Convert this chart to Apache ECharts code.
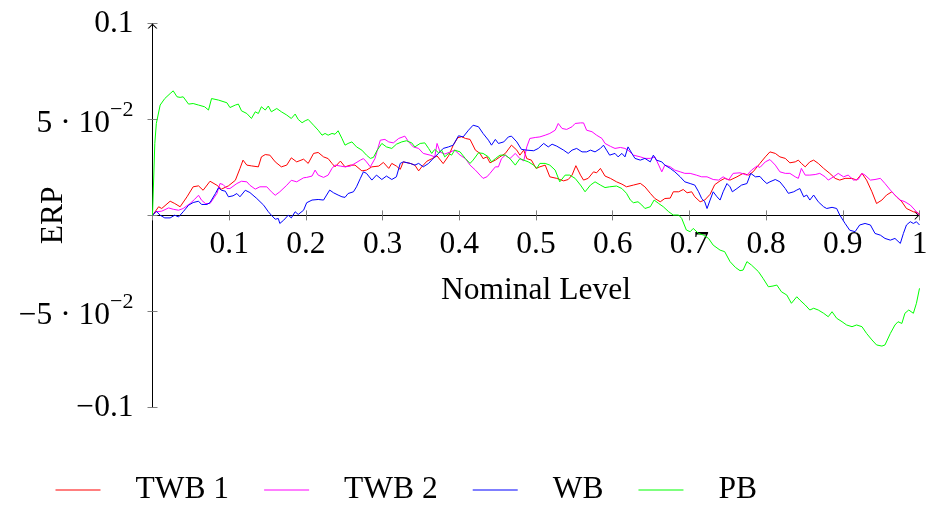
<!DOCTYPE html>
<html>
<head>
<meta charset="utf-8">
<script src="https://cdn.jsdelivr.net/npm/echarts@6/dist/echarts.min.js"></script>
<style>
html,body{margin:0;padding:0;background:#fff;}
#chart{width:930px;height:505px;}
</style>
</head>
<body>
<div id="chart"></div>
<script>
// ---------- data ----------
const seriesNames = ['TWB 1', 'TWB 2', 'WB', 'PB'];

const twb1 = [[0,0],[0.008,0.0045],[0.012,0.0036],[0.023,0.0074],[0.029,0.0062],[0.036,0.0045],[0.045,0.0097],[0.053,0.0149],[0.060,0.0154],[0.066,0.0131],[0.075,0.0178],[0.084,0.0157],[0.090,0.0137],[0.099,0.0154],[0.108,0.0183],[0.114,0.0244],[0.118,0.0288],[0.123,0.0262],[0.129,0.0258],[0.138,0.0253],[0.142,0.0305],[0.147,0.0317],[0.153,0.0314],[0.160,0.0279],[0.168,0.0253],[0.175,0.0262],[0.181,0.0300],[0.188,0.0279],[0.197,0.0293],[0.203,0.0271],[0.210,0.0323],[0.216,0.0328],[0.223,0.0305],[0.229,0.0296],[0.234,0.0271],[0.238,0.0253],[0.245,0.0283],[0.251,0.0253],[0.258,0.0262],[0.264,0.0262],[0.273,0.0232],[0.279,0.0236],[0.286,0.0253],[0.295,0.0257],[0.301,0.0276],[0.308,0.0245],[0.312,0.0271],[0.318,0.0257],[0.323,0.0240],[0.327,0.0279],[0.336,0.0271],[0.342,0.0262],[0.347,0.0232],[0.351,0.0253],[0.358,0.0283],[0.364,0.0295],[0.371,0.0310],[0.379,0.0270],[0.386,0.0310],[0.392,0.0365],[0.398,0.0405],[0.403,0.0410],[0.408,0.0401],[0.414,0.0396],[0.421,0.0340],[0.427,0.0323],[0.431,0.0296],[0.436,0.0305],[0.440,0.0274],[0.447,0.0288],[0.453,0.0305],[0.460,0.0323],[0.468,0.0366],[0.475,0.0340],[0.479,0.0314],[0.484,0.0340],[0.488,0.0296],[0.494,0.0288],[0.500,0.0245],[0.505,0.0253],[0.512,0.0262],[0.518,0.0201],[0.527,0.0193],[0.536,0.0180],[0.542,0.0187],[0.547,0.0210],[0.552,0.0259],[0.558,0.0210],[0.562,0.0184],[0.568,0.0193],[0.575,0.0227],[0.579,0.0222],[0.584,0.0245],[0.590,0.0205],[0.597,0.0193],[0.605,0.0175],[0.612,0.0163],[0.618,0.0149],[0.627,0.0158],[0.636,0.0167],[0.642,0.0149],[0.649,0.0115],[0.655,0.0088],[0.662,0.0071],[0.668,0.0088],[0.675,0.0090],[0.679,0.0123],[0.686,0.0123],[0.692,0.0135],[0.697,0.0118],[0.703,0.0123],[0.707,0.0097],[0.714,0.0071],[0.720,0.0080],[0.727,0.0110],[0.733,0.0160],[0.740,0.0180],[0.746,0.0193],[0.753,0.0184],[0.762,0.0201],[0.770,0.0219],[0.777,0.0210],[0.783,0.0227],[0.792,0.0271],[0.799,0.0305],[0.805,0.0331],[0.812,0.0323],[0.818,0.0305],[0.825,0.0297],[0.831,0.0274],[0.838,0.0279],[0.842,0.0288],[0.846,0.0271],[0.851,0.0253],[0.857,0.0279],[0.862,0.0288],[0.868,0.0271],[0.875,0.0245],[0.883,0.0219],[0.890,0.0193],[0.896,0.0184],[0.903,0.0193],[0.912,0.0193],[0.918,0.0184],[0.925,0.0219],[0.931,0.0184],[0.938,0.0123],[0.944,0.0062],[0.951,0.0080],[0.957,0.0106],[0.964,0.0123],[0.970,0.0097],[0.977,0.0071],[0.983,0.0036],[0.992,0.0019],[0.998,0.0014],[1,0.0002]];

const twb2 = [[0,0],[0.005,0.0019],[0.012,0.0022],[0.021,0.0039],[0.027,0.0032],[0.034,0.0027],[0.040,0.0036],[0.049,0.0062],[0.055,0.0084],[0.060,0.0105],[0.064,0.0079],[0.069,0.0062],[0.075,0.0062],[0.084,0.0114],[0.088,0.0166],[0.092,0.0161],[0.097,0.0140],[0.101,0.0140],[0.110,0.0166],[0.116,0.0178],[0.123,0.0175],[0.127,0.0157],[0.134,0.0137],[0.140,0.0149],[0.149,0.0149],[0.155,0.0123],[0.160,0.0105],[0.166,0.0123],[0.175,0.0157],[0.181,0.0183],[0.188,0.0175],[0.197,0.0196],[0.201,0.0198],[0.208,0.0205],[0.212,0.0236],[0.216,0.0210],[0.223,0.0198],[0.229,0.0210],[0.234,0.0245],[0.238,0.0262],[0.245,0.0257],[0.251,0.0253],[0.258,0.0257],[0.264,0.0271],[0.271,0.0288],[0.275,0.0296],[0.279,0.0279],[0.284,0.0253],[0.290,0.0296],[0.297,0.0392],[0.303,0.0396],[0.308,0.0383],[0.314,0.0378],[0.321,0.0401],[0.329,0.0413],[0.334,0.0383],[0.340,0.0357],[0.347,0.0349],[0.353,0.0323],[0.362,0.0314],[0.368,0.0305],[0.371,0.0375],[0.375,0.0330],[0.381,0.0320],[0.388,0.0330],[0.394,0.0340],[0.401,0.0314],[0.408,0.0296],[0.414,0.0262],[0.421,0.0236],[0.427,0.0210],[0.431,0.0193],[0.436,0.0201],[0.440,0.0219],[0.447,0.0253],[0.451,0.0253],[0.455,0.0296],[0.460,0.0314],[0.466,0.0296],[0.473,0.0323],[0.479,0.0296],[0.484,0.0284],[0.488,0.0357],[0.492,0.0401],[0.499,0.0406],[0.505,0.0409],[0.512,0.0418],[0.518,0.0427],[0.525,0.0444],[0.529,0.0479],[0.534,0.0453],[0.540,0.0448],[0.547,0.0462],[0.551,0.0479],[0.558,0.0482],[0.562,0.0482],[0.566,0.0444],[0.573,0.0436],[0.579,0.0418],[0.586,0.0401],[0.590,0.0375],[0.597,0.0360],[0.603,0.0349],[0.610,0.0354],[0.616,0.0349],[0.620,0.0340],[0.627,0.0314],[0.636,0.0305],[0.642,0.0297],[0.649,0.0297],[0.655,0.0305],[0.660,0.0262],[0.664,0.0227],[0.668,0.0262],[0.675,0.0253],[0.681,0.0236],[0.688,0.0227],[0.694,0.0219],[0.701,0.0219],[0.709,0.0210],[0.716,0.0201],[0.723,0.0201],[0.731,0.0187],[0.738,0.0184],[0.744,0.0201],[0.751,0.0184],[0.757,0.0219],[0.766,0.0222],[0.775,0.0210],[0.781,0.0236],[0.788,0.0257],[0.792,0.0250],[0.799,0.0279],[0.805,0.0291],[0.812,0.0262],[0.818,0.0227],[0.825,0.0219],[0.831,0.0219],[0.838,0.0201],[0.842,0.0193],[0.846,0.0245],[0.851,0.0210],[0.857,0.0210],[0.864,0.0213],[0.870,0.0219],[0.877,0.0201],[0.881,0.0184],[0.888,0.0201],[0.894,0.0219],[0.901,0.0201],[0.907,0.0210],[0.914,0.0184],[0.920,0.0187],[0.925,0.0219],[0.929,0.0210],[0.936,0.0184],[0.942,0.0187],[0.949,0.0193],[0.955,0.0166],[0.962,0.0132],[0.968,0.0106],[0.975,0.0080],[0.981,0.0071],[0.988,0.0054],[0.994,0.0028],[1,0.0002]];

const wb = [[0,0],[0.005,0.0022],[0.010,0.0001],[0.016,-0.0013],[0.023,-0.0013],[0.029,0.0001],[0.034,-0.0008],[0.040,0.0019],[0.047,0.0053],[0.053,0.0067],[0.060,0.0074],[0.064,0.0057],[0.071,0.0057],[0.075,0.0067],[0.082,0.0114],[0.086,0.0144],[0.090,0.0131],[0.095,0.0126],[0.099,0.0097],[0.105,0.0102],[0.110,0.0114],[0.114,0.0097],[0.121,0.0131],[0.127,0.0119],[0.136,0.0088],[0.145,0.0053],[0.151,0.0019],[0.155,0.0001],[0.160,-0.0020],[0.164,-0.0016],[0.166,-0.0042],[0.171,-0.0025],[0.177,0.0001],[0.181,-0.0013],[0.186,0.0019],[0.190,0.0005],[0.197,0.0027],[0.201,0.0066],[0.208,0.0080],[0.216,0.0083],[0.223,0.0080],[0.227,0.0106],[0.231,0.0132],[0.236,0.0118],[0.242,0.0106],[0.247,0.0097],[0.251,0.0094],[0.255,0.0114],[0.262,0.0123],[0.266,0.0149],[0.271,0.0193],[0.275,0.0227],[0.279,0.0219],[0.286,0.0184],[0.292,0.0210],[0.299,0.0187],[0.305,0.0205],[0.312,0.0187],[0.318,0.0201],[0.323,0.0271],[0.327,0.0279],[0.336,0.0271],[0.342,0.0262],[0.347,0.0271],[0.353,0.0253],[0.360,0.0271],[0.366,0.0297],[0.373,0.0323],[0.379,0.0349],[0.386,0.0357],[0.392,0.0366],[0.399,0.0415],[0.405,0.0409],[0.412,0.0444],[0.418,0.0470],[0.425,0.0462],[0.431,0.0427],[0.438,0.0392],[0.442,0.0366],[0.447,0.0396],[0.451,0.0375],[0.458,0.0383],[0.464,0.0409],[0.468,0.0413],[0.475,0.0383],[0.481,0.0344],[0.488,0.0340],[0.497,0.0337],[0.503,0.0349],[0.510,0.0375],[0.516,0.0357],[0.521,0.0371],[0.527,0.0361],[0.536,0.0340],[0.542,0.0323],[0.547,0.0340],[0.553,0.0349],[0.560,0.0331],[0.566,0.0331],[0.571,0.0340],[0.577,0.0331],[0.584,0.0349],[0.588,0.0366],[0.592,0.0340],[0.596,0.0314],[0.603,0.0323],[0.607,0.0305],[0.612,0.0323],[0.616,0.0305],[0.620,0.0357],[0.625,0.0323],[0.629,0.0297],[0.636,0.0288],[0.642,0.0297],[0.649,0.0279],[0.653,0.0314],[0.657,0.0288],[0.664,0.0279],[0.668,0.0262],[0.675,0.0245],[0.681,0.0227],[0.688,0.0201],[0.694,0.0175],[0.701,0.0166],[0.707,0.0158],[0.712,0.0123],[0.716,0.0088],[0.720,0.0071],[0.723,0.0036],[0.727,0.0080],[0.731,0.0123],[0.736,0.0097],[0.740,0.0080],[0.744,0.0123],[0.749,0.0166],[0.753,0.0149],[0.756,0.0123],[0.762,0.0140],[0.768,0.0158],[0.775,0.0166],[0.780,0.0219],[0.786,0.0201],[0.792,0.0203],[0.796,0.0184],[0.801,0.0166],[0.805,0.0175],[0.812,0.0187],[0.818,0.0175],[0.825,0.0140],[0.829,0.0115],[0.836,0.0123],[0.840,0.0132],[0.844,0.0140],[0.849,0.0097],[0.853,0.0106],[0.857,0.0080],[0.862,0.0106],[0.868,0.0071],[0.875,0.0045],[0.879,0.0036],[0.886,0.0042],[0.892,0.0036],[0.896,0.0002],[0.903,-0.0042],[0.909,-0.0077],[0.916,-0.0085],[0.922,-0.0050],[0.929,-0.0042],[0.936,-0.0050],[0.942,-0.0094],[0.949,-0.0103],[0.955,-0.0120],[0.962,-0.0129],[0.968,-0.0120],[0.975,-0.0146],[0.979,-0.0094],[0.983,-0.0050],[0.988,-0.0033],[0.992,-0.0042],[0.996,-0.0033],[1,-0.0050]];

const pb = [[0,0],[0.003,0.0375],[0.005,0.0479],[0.010,0.0575],[0.016,0.0609],[0.023,0.0635],[0.027,0.0649],[0.032,0.0618],[0.036,0.0615],[0.040,0.0618],[0.047,0.0580],[0.053,0.0583],[0.060,0.0575],[0.068,0.0566],[0.073,0.0549],[0.077,0.0609],[0.086,0.0601],[0.097,0.0587],[0.101,0.0562],[0.108,0.0575],[0.112,0.0580],[0.116,0.0545],[0.123,0.0531],[0.129,0.0505],[0.134,0.0540],[0.138,0.0531],[0.142,0.0566],[0.147,0.0549],[0.151,0.0570],[0.155,0.0540],[0.162,0.0557],[0.168,0.0540],[0.175,0.0523],[0.181,0.0505],[0.186,0.0528],[0.190,0.0500],[0.195,0.0483],[0.199,0.0493],[0.203,0.0500],[0.210,0.0470],[0.216,0.0444],[0.221,0.0418],[0.225,0.0427],[0.229,0.0418],[0.234,0.0427],[0.238,0.0423],[0.242,0.0441],[0.247,0.0401],[0.251,0.0366],[0.255,0.0375],[0.260,0.0383],[0.266,0.0357],[0.273,0.0340],[0.279,0.0314],[0.284,0.0297],[0.288,0.0302],[0.293,0.0340],[0.299,0.0375],[0.305,0.0357],[0.312,0.0349],[0.318,0.0371],[0.325,0.0383],[0.331,0.0389],[0.338,0.0378],[0.342,0.0357],[0.349,0.0375],[0.355,0.0378],[0.360,0.0349],[0.364,0.0323],[0.368,0.0344],[0.373,0.0326],[0.377,0.0340],[0.381,0.0305],[0.386,0.0323],[0.390,0.0314],[0.394,0.0340],[0.401,0.0331],[0.408,0.0296],[0.414,0.0271],[0.418,0.0288],[0.425,0.0326],[0.431,0.0323],[0.438,0.0305],[0.442,0.0279],[0.447,0.0296],[0.453,0.0314],[0.460,0.0314],[0.466,0.0296],[0.473,0.0262],[0.479,0.0296],[0.484,0.0288],[0.490,0.0279],[0.497,0.0262],[0.501,0.0245],[0.505,0.0271],[0.512,0.0271],[0.518,0.0262],[0.525,0.0236],[0.531,0.0175],[0.538,0.0210],[0.544,0.0210],[0.551,0.0193],[0.558,0.0158],[0.564,0.0123],[0.571,0.0158],[0.577,0.0175],[0.584,0.0158],[0.590,0.0145],[0.596,0.0149],[0.605,0.0153],[0.612,0.0140],[0.618,0.0115],[0.623,0.0080],[0.627,0.0066],[0.633,0.0071],[0.638,0.0054],[0.642,0.0036],[0.649,0.0045],[0.654,0.0080],[0.660,0.0062],[0.666,0.0045],[0.673,0.0019],[0.679,0.0002],[0.686,0.0002],[0.690,-0.0016],[0.696,-0.0076],[0.701,-0.0085],[0.705,-0.0068],[0.712,-0.0094],[0.718,-0.0102],[0.725,-0.0120],[0.731,-0.0155],[0.740,-0.0181],[0.746,-0.0189],[0.753,-0.0241],[0.760,-0.0271],[0.766,-0.0288],[0.770,-0.0285],[0.775,-0.0241],[0.781,-0.0259],[0.790,-0.0293],[0.796,-0.0328],[0.803,-0.0372],[0.809,-0.0368],[0.814,-0.0363],[0.820,-0.0398],[0.827,-0.0415],[0.833,-0.0458],[0.840,-0.0424],[0.844,-0.0441],[0.851,-0.0467],[0.857,-0.0493],[0.862,-0.0484],[0.868,-0.0493],[0.875,-0.0510],[0.881,-0.0528],[0.886,-0.0502],[0.892,-0.0536],[0.899,-0.0554],[0.905,-0.0571],[0.912,-0.0580],[0.918,-0.0571],[0.925,-0.0580],[0.931,-0.0615],[0.938,-0.0649],[0.944,-0.0675],[0.951,-0.0681],[0.955,-0.0675],[0.962,-0.0615],[0.968,-0.0571],[0.972,-0.0554],[0.977,-0.0563],[0.981,-0.0510],[0.986,-0.0493],[0.992,-0.0510],[0.996,-0.0458],[1,-0.0380]];

// tick labels
const xTickLabels = ['', '0.1', '0.2', '0.3', '0.4', '0.5', '0.6', '0.7', '0.8', '0.9', '1'];   // for 0, 0.1, ..., 1
const yTickMantissa = ['\u22120.1', '\u22125 \u00b7 10', '', '5 \u00b7 10', '0.1'];          // for -0.1, -0.05, 0, 0.05, 0.1
const yTickExponent = ['', '\u22122', '', '\u22122', ''];

// ---------- chart ----------
const FONT = 'Liberation Serif';
const FS = 31.5;
const colors = ['#ff0000', '#ff00ff', '#0000ff', '#00ff00'];
const allData = [twb1, twb2, wb, pb];
const arrowPath = 'path://M0,0 L5,5 L3.6,5 L0,1.4 L-3.6,5 L-5,5 Z';

const W = 930, H = 505;
const G = {left: 152.5, right: 10.5, top: 23.5, bottom: 97.7};
const plotH = H - G.top - G.bottom;
const zeroShift = -plotH / 2;   // moves the x axis from the grid bottom up to y = 0 (range is symmetric)

const chart = echarts.init(document.getElementById('chart'), null, {renderer: 'canvas'});

const option = {
  animation: false,
  backgroundColor: '#ffffff',
  textStyle: {fontFamily: FONT, color: '#000'},
  grid: {left: G.left, right: G.right, top: G.top, bottom: G.bottom, containLabel: false, outerBoundsMode: 'none'},
  legend: {
    data: seriesNames,
    left: 55.5, top: 474, padding: 0,
    icon: 'rect',
    itemGap: 35, itemWidth: 45, itemHeight: 1,
    textStyle: {fontFamily: FONT, fontSize: FS, color: '#000', padding: [0, 0, 0, 30]}
  },
  xAxis: [{
    type: 'value', min: 0, max: 1, interval: 0.1, position: 'bottom', offset: zeroShift,
    axisLine: {onZero: false, lineStyle: {color: '#000', width: 1},
      symbol: ['none', arrowPath], symbolSize: [9, 5], symbolOffset: [0, -2.5]},
    axisTick: {show: true, length: 5, lineStyle: {color: '#808080', width: 1}},
    axisLabel: {
      margin: 13, fontSize: FS, fontFamily: FONT, color: '#000',
      showMinLabel: true, showMaxLabel: true, hideOverlap: false,
      formatter: function (v) { return xTickLabels[Math.round(v * 10)] || ''; }
    },
    splitLine: {show: false},
    name: 'Nominal Level', nameLocation: 'middle', nameGap: 59, nameMoveOverlap: false,
    nameTextStyle: {fontFamily: FONT, fontSize: FS, color: '#000'}
  }, {
    type: 'value', min: 0, max: 1, interval: 0.1, position: 'bottom', offset: zeroShift,
    axisLine: {show: false, onZero: false},
    axisTick: {show: true, inside: true, length: 5, lineStyle: {color: '#808080', width: 1}},
    axisLabel: {show: false}, splitLine: {show: false}
  }],
  yAxis: [{
    type: 'value', min: -0.1, max: 0.1, interval: 0.05, position: 'left',
    axisLine: {onZero: false, lineStyle: {color: '#000', width: 1},
      symbol: ['none', arrowPath], symbolSize: [10, 5], symbolOffset: [0, -2.5]},
    axisTick: {show: true, length: 5, lineStyle: {color: '#808080', width: 1}},
    axisLabel: {
      margin: 19, fontFamily: FONT, color: '#000',
      formatter: function (v) {
        const i = Math.round((v + 0.1) / 0.05);
        if (!yTickMantissa[i]) return '';
        if (!yTickExponent[i]) return '{p|' + yTickMantissa[i] + '}';
        return '{h| }{m|' + yTickMantissa[i] + '}{s|' + yTickExponent[i] + '}';
      },
      rich: {
        p: {fontFamily: FONT, fontSize: FS, color: '#000', lineHeight: 31},
        h: {fontFamily: FONT, fontSize: 1, lineHeight: 41},
        m: {fontFamily: FONT, fontSize: FS, color: '#000', lineHeight: 31, verticalAlign: 'bottom'},
        s: {fontFamily: FONT, fontSize: 22, color: '#000', lineHeight: 30, verticalAlign: 'top'}
      }
    },
    splitLine: {show: false},
    name: 'ERP', nameLocation: 'middle', nameGap: 83, nameRotate: 90, nameMoveOverlap: false,
    nameTextStyle: {fontFamily: FONT, fontSize: FS, color: '#000'}
  }, {
    type: 'value', min: -0.1, max: 0.1, interval: 0.05, position: 'left',
    axisLine: {show: false, onZero: false},
    axisTick: {show: true, inside: true, length: 5, lineStyle: {color: '#808080', width: 1}},
    axisLabel: {show: false}, splitLine: {show: false}
  }],
  series: seriesNames.map(function (name, i) {
    return {
      name: name, type: 'line', data: allData[i],
      xAxisIndex: 0, yAxisIndex: 0,
      symbol: 'none', showSymbol: false, smooth: false,
      lineStyle: {color: colors[i], width: 1},
      itemStyle: {color: colors[i]},
      z: 2 + i
    };
  })
};
chart.setOption(option);
</script>
</body>
</html>
